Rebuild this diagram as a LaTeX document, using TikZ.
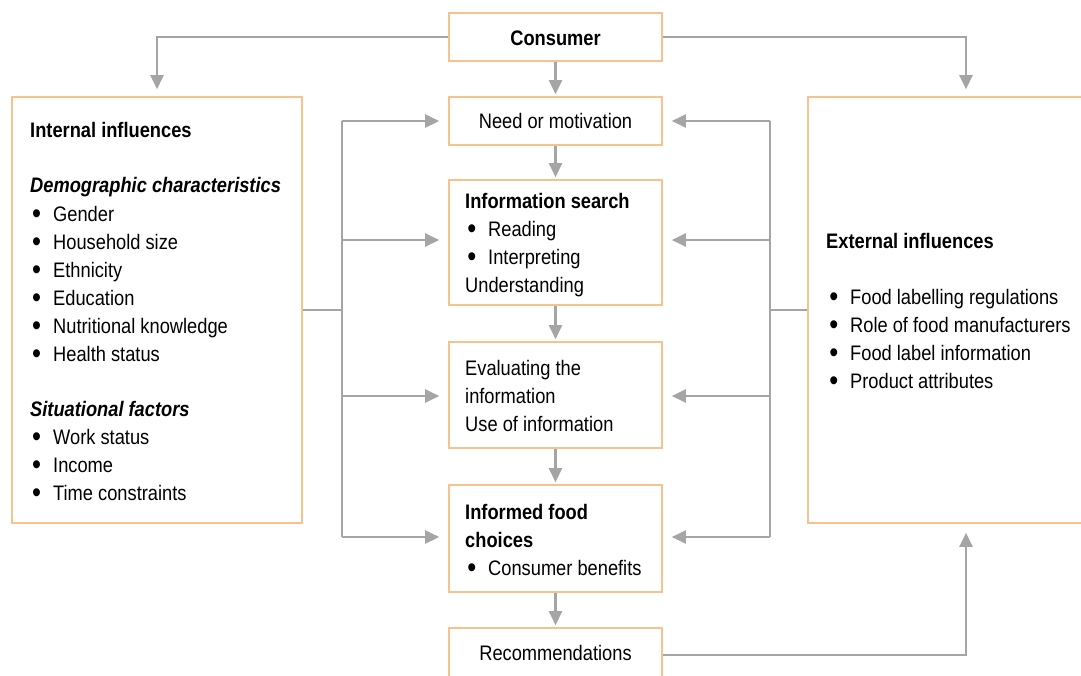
\documentclass[tikz,border=0pt]{standalone}
\usepackage{fontspec}
\setmainfont[FakeStretch=0.87]{Liberation Sans}
\usetikzlibrary{arrows.meta}
\definecolor{boxline}{HTML}{F6C28E}
\definecolor{linkgray}{HTML}{A5A5A5}
\newcommand\bulletmark{\raisebox{-2.4pt}{\scalebox{1.4}{\textbullet}}}
\tikzset{
  box/.style={draw=boxline, line width=1.6pt, fill=white, inner sep=0pt},
  conn/.style={draw=linkgray, line width=2.4pt},
  arr/.style={conn, -{Triangle[length=14pt,width=13pt]}},
  txt/.style={inner sep=0pt, anchor=base west, font=\fontsize{21}{28}\selectfont},
  head/.style={txt, font=\fontsize{21}{28}\selectfont\bfseries},
  subhead/.style={txt, font=\fontsize{21}{28}\selectfont\bfseries\itshape},
  item/.style={txt, execute at begin node={\llap{\bulletmark\hspace{12pt}}}},
}
\begin{document}
\begin{tikzpicture}[x=1pt,y=-1pt]
\clip (0,0) rectangle (1081,675);
\fill[white] (0,0) rectangle (1081,675);

% boxes
\node[box, minimum width=213pt, minimum height=48pt] (consumer) at (555.5,37) {};
\node[box, minimum width=213pt, minimum height=48pt] (need) at (555.5,121) {};
\node[box, minimum width=213pt, minimum height=125pt] (info) at (555.5,242.5) {};
\node[box, minimum width=213pt, minimum height=106pt] (eval) at (555.5,395) {};
\node[box, minimum width=213pt, minimum height=107pt] (choice) at (555.5,538.5) {};
\node[box, minimum width=213pt, minimum height=54pt] (rec) at (555.5,655) {};
\node[box, minimum width=290pt, minimum height=426pt] (internal) at (157,310) {};
\node[box, minimum width=316pt, minimum height=426pt] (external) at (966,310) {};

% centred labels
\node[head, anchor=base] (consumerT) at (555.5,45.5) {Consumer};
\node[txt, anchor=base] (needT) at (555.5,128.5) {Need or motivation};
\node[txt, anchor=base] (recT) at (555.5,660.5) {Recommendations};

% internal influences
\node[head] (inH) at (30,137) {Internal influences};
\node[subhead] (demH) at (30,192) {Demographic characteristics};
\foreach \t [count=\i] in {Gender, Household size, Ethnicity, Education, Nutritional knowledge, Health status}
  \node[item] (dem\i) at (53,{221+28*(\i-1)}) {\t};
\node[subhead] (sitH) at (30,416) {Situational factors};
\foreach \t [count=\i] in {Work status, Income, Time constraints}
  \node[item] (sit\i) at (53,{444+28*(\i-1)}) {\t};

% information search
\node[head] (infoH) at (465,208.5) {Information search};
\node[item] (info1) at (488,236.5) {Reading};
\node[item] (info2) at (488,264.5) {Interpreting};
\node[txt] (info3) at (465,292.5) {Understanding};

% evaluating
\node[txt] (eval1) at (465,375.5) {Evaluating the};
\node[txt] (eval2) at (465,403.5) {information};
\node[txt] (eval3) at (465,431.5) {Use of information};

% informed food choices
\node[head] (choiceH1) at (465,519) {Informed food};
\node[head] (choiceH2) at (465,547) {choices};
\node[item] (choice1) at (488,575) {Consumer benefits};

% external influences
\node[head] (exH) at (826,248.5) {External influences};
\foreach \t [count=\i] in {Food labelling regulations, Role of food manufacturers, Food label information, Product attributes}
  \node[item] (ex\i) at (850,{304.5+28*(\i-1)}) {\t};

% main flow
\draw[arr, shorten >=2pt] (consumer) -- (need);
\draw[arr, shorten >=2pt] (need) -- (info);
\draw[arr, shorten >=2pt] (info) -- (eval);
\draw[arr, shorten >=2pt] (eval) -- (choice);
\draw[arr, shorten >=2pt] (choice) -- (rec);

% consumer to both sides, recommendations back to external
\draw[arr, shorten >=7pt] (consumer.west) -| (internal.north);
\draw[arr, shorten >=7pt] (consumer.east) -| (external.north);
\draw[arr, shorten >=9pt] (rec.east) -| (external.south);

% left trunk
\coordinate (L1) at (342,121);
\coordinate (L2) at (342,240);
\coordinate (L3) at (342,396);
\coordinate (L4) at (342,537);
\coordinate (LJ) at (342,310);
\draw[conn] (L1) -- (L4);
\draw[conn] (internal.east) -- (LJ);
\draw[arr, shorten >=9pt] (L1) -- (L1 -| need.west);
\draw[arr, shorten >=9pt] (L2) -- (L2 -| info.west);
\draw[arr, shorten >=9pt] (L3) -- (L3 -| eval.west);
\draw[arr, shorten >=9pt] (L4) -- (L4 -| choice.west);

% right trunk
\coordinate (R1) at (770,121);
\coordinate (R2) at (770,240);
\coordinate (R3) at (770,396);
\coordinate (R4) at (770,537);
\coordinate (RJ) at (770,310);
\draw[conn] (R1) -- (R4);
\draw[conn] (external.west) -- (RJ);
\draw[arr, shorten >=9pt] (R1) -- (R1 -| need.east);
\draw[arr, shorten >=9pt] (R2) -- (R2 -| info.east);
\draw[arr, shorten >=9pt] (R3) -- (R3 -| eval.east);
\draw[arr, shorten >=9pt] (R4) -- (R4 -| choice.east);
\end{tikzpicture}
\end{document}
